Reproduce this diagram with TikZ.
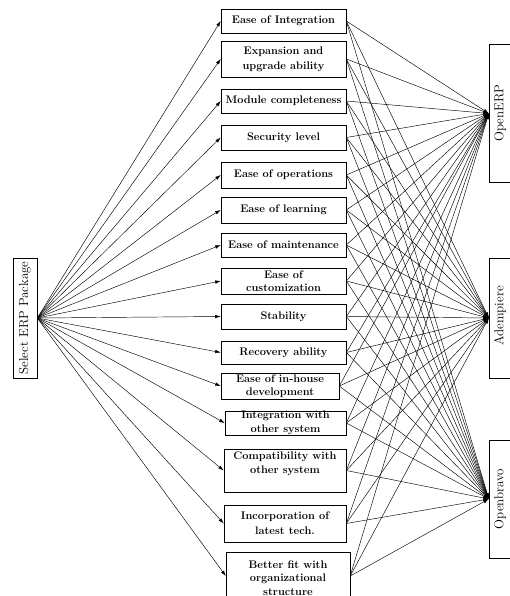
\documentclass[tikz,border=0pt]{standalone}
\usetikzlibrary{arrows.meta}
\begin{document}
\begin{tikzpicture}[x=1pt,y=-1pt,
  crit/.style={draw, line width=0.6pt, inner sep=0pt, align=center, font=\bfseries\fontsize{11}{15}\selectfont},
  crittext/.style={inner sep=0pt, align=center, font=\bfseries\fontsize{11}{15}\selectfont},
  tight/.style={font=\bfseries\fontsize{11}{13.5}\selectfont},
  alttext/.style={inner sep=0pt, rotate=90, font=\fontsize{13}{15}\selectfont},
  frame/.style={line width=0.6pt},
  arr/.style={line width=0.45pt, -{Latex[length=5.5pt,width=3.5pt]}}]
\useasboundingbox (0,0) rectangle (509,596);
% goal
\node[draw, frame, minimum width=24pt, minimum height=120pt, inner sep=0pt] (sel) at (25,318) {};
\node[alttext] (selt) at (sel.center) {Select ERP Package};
% alternatives (right side cut off)
\node[minimum width=40pt, minimum height=137pt, inner sep=0pt] (erp) at (509,113.5) {};
\node[minimum width=40pt, minimum height=120pt, inner sep=0pt] (adem) at (509,318) {};
\node[minimum width=40pt, minimum height=118pt, inner sep=0pt] (obr) at (509,499) {};
\foreach \a in {erp,adem,obr}
  \draw[frame] (\a.north east) -- (\a.north west) -- (\a.south west) -- (\a.south east);
\node[alttext] (erpt) at (500,113) {OpenERP};
\node[alttext] (ademt) at (500,316) {Adempiere};
\node[alttext] (obrt) at (500,499) {Openbravo};
% criteria
\node[crit, minimum width=125pt, minimum height=24pt] (c1) at (283.5,21) {Ease of Integration};
\node[crit, minimum width=125pt, minimum height=36pt] (c2) at (283.5,59) {Expansion and\\upgrade ability};
\node[crit, minimum width=125pt, minimum height=24pt] (c3) at (283.5,101) {Module completeness};
\node[crit, minimum width=125pt, minimum height=25pt] (c4) at (283.5,137.5) {Security level};
\node[crit, minimum width=125pt, minimum height=26pt] (c5) at (283.5,175) {Ease of operations};
\node[crit, minimum width=125pt, minimum height=26pt] (c6) at (283.5,210) {Ease of learning};
\node[crit, minimum width=125pt, minimum height=24pt] (c7) at (283.5,245) {Ease of maintenance};
\node[crit, tight, minimum width=125pt, minimum height=26pt] (c8) at (283.5,281) {Ease of\\customization};
\node[crit, minimum width=125pt, minimum height=25pt] (c9) at (283.5,316.5) {Stability};
\node[crit, minimum width=125pt, minimum height=23pt] (c10) at (283.5,352.5) {Recovery ability};
\node[crit, tight, minimum width=118pt, minimum height=26pt] (c11) at (280,386) {Ease of in-house\\development};
\node[crit, tight, minimum width=121pt, minimum height=24pt] (c12) at (285.5,423) {Integration with\\other system};
\node[draw, frame, minimum width=122pt, minimum height=43pt, inner sep=0pt] (c13) at (285,470.5) {};
\node[crittext, tight] (c13t) at (285,464) {Compatibility with\\other system};
\node[crit, minimum width=122pt, minimum height=37pt] (c14) at (285,523.5) {Incorporation of\\latest tech.};
\node[minimum width=124pt, minimum height=48pt, inner sep=0pt] (c15) at (288,576) {};
\draw[frame] (c15.south west) -- (c15.north west) -- (c15.north east) -- (c15.south east);
\node[crittext, tight] (c15t) at (288,578) {Better fit with\\organizational\\structure};
% connectors
\foreach \c in {c1,c2,c3,c4,c5,c6,c7,c8,c9,c10,c11,c12,c13,c14,c15}{
  \draw[arr] (sel.east) -- (\c.west);
  \foreach \a in {erp,adem,obr}
    \draw[arr] (\c.east) -- (\a.west);
}
\end{tikzpicture}
\end{document}
